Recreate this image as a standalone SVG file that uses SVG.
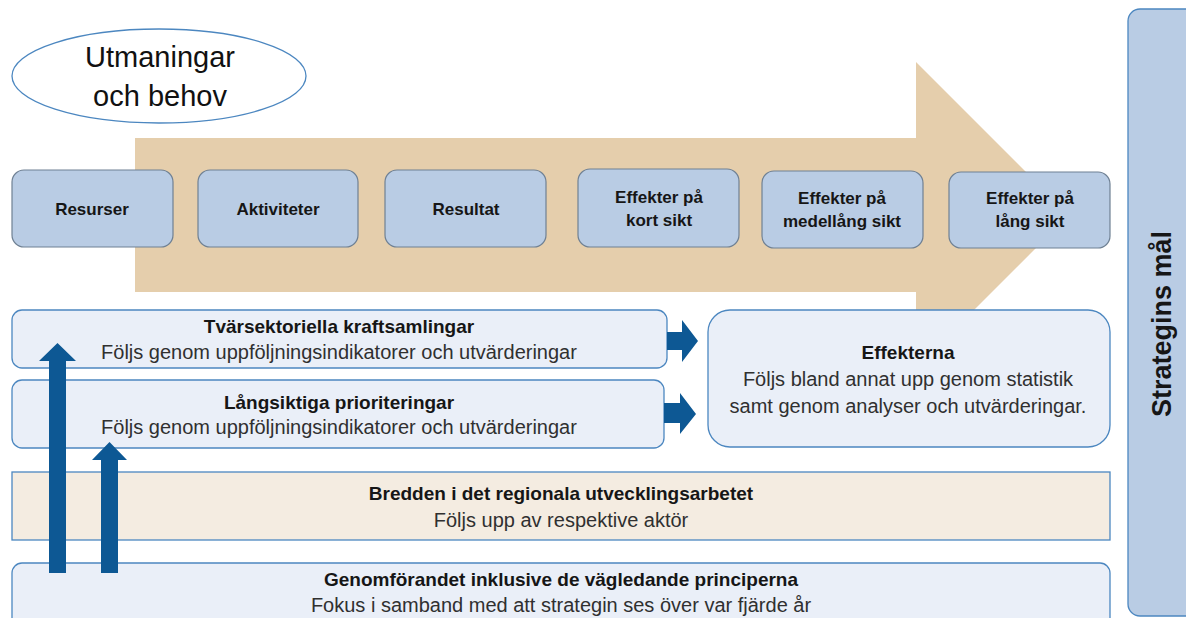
<svg xmlns="http://www.w3.org/2000/svg" width="1186" height="618" viewBox="0 0 1186 618">
<style>
text{font-family:"Liberation Sans",Arial,sans-serif;text-anchor:middle}
.b{font-weight:bold;fill:#161616}
.n{fill:#303030}
.top{fill:#B9CCE4;stroke:#6F8093;stroke-width:1.2}
.lt{fill:#EAEFF8;stroke:#4C87C0;stroke-width:1.3}
.bar{fill:#0D5894}
</style>
<g id="flow-arrow">
<path d="M135 138 H916 V62 L1069 215 L916 368 V292 H135 Z" fill="#E5CEAC"/>
</g>
<g id="utmaningar">
<ellipse cx="159" cy="76" rx="147" ry="47" fill="#fff" stroke="#4C87C0" stroke-width="1.3"/>
<text x="160" y="67" font-size="29" fill="#111">Utmaningar</text>
<text x="160" y="106" font-size="29" fill="#111">och behov</text>
</g>
<g id="resurser">
<rect class="top" x="12" y="170" width="161" height="77" rx="12"/>
<text class="b" x="92" y="215" font-size="17">Resurser</text>
</g>
<g id="aktiviteter">
<rect class="top" x="198" y="170" width="160" height="77" rx="12"/>
<text class="b" x="278" y="215" font-size="17">Aktiviteter</text>
</g>
<g id="resultat">
<rect class="top" x="385" y="170" width="161" height="77" rx="12"/>
<text class="b" x="466" y="215" font-size="17">Resultat</text>
</g>
<g id="kort">
<rect class="top" x="578" y="169" width="161" height="78" rx="12"/>
<text class="b" x="659" y="203" font-size="17">Effekter på</text>
<text class="b" x="659" y="226" font-size="17">kort sikt</text>
</g>
<g id="medellang">
<rect class="top" x="762" y="171" width="161" height="77" rx="12"/>
<text class="b" x="842" y="204" font-size="17">Effekter på</text>
<text class="b" x="842" y="227" font-size="17">medellång sikt</text>
</g>
<g id="lang">
<rect class="top" x="949" y="172" width="161" height="76" rx="12"/>
<text class="b" x="1030" y="204" font-size="17">Effekter på</text>
<text class="b" x="1030" y="227" font-size="17">lång sikt</text>
</g>
<g id="strategins-mal">
<rect x="1128" y="9" width="80" height="607" rx="12" fill="#B9CCE4" stroke="#4C87C0" stroke-width="1.3"/>
<text class="b" transform="translate(1171 324) rotate(-90)" font-size="27">Strategins mål</text>
</g>
<g id="tvarsektoriella">
<rect class="lt" x="12" y="310" width="655" height="58" rx="10"/>
<text class="b" x="339" y="333" font-size="19">Tvärsektoriella kraftsamlingar</text>
<text class="n" x="339" y="359" font-size="20">Följs genom uppföljningsindikatorer och utvärderingar</text>
</g>
<g id="langsiktiga">
<rect class="lt" x="12" y="380" width="652" height="68" rx="10"/>
<text class="b" x="339" y="409" font-size="19">Långsiktiga prioriteringar</text>
<text class="n" x="339" y="434" font-size="20">Följs genom uppföljningsindikatorer och utvärderingar</text>
</g>
<g id="effekterna">
<rect class="lt" x="708" y="310" width="402" height="137" rx="22"/>
<text class="b" x="908" y="359" font-size="19">Effekterna</text>
<text class="n" x="908" y="386" font-size="20">Följs bland annat upp genom statistik</text>
<text class="n" x="908" y="413" font-size="20">samt genom analyser och utvärderingar.</text>
</g>
<g id="bredden">
<rect x="12" y="472" width="1098" height="68" fill="#F4ECE1" stroke="#4C87C0" stroke-width="1.3"/>
<text class="b" x="561" y="500" font-size="19">Bredden i det regionala utvecklingsarbetet</text>
<text class="n" x="561" y="527" font-size="20">Följs upp av respektive aktör</text>
</g>
<g id="genomforandet">
<rect class="lt" x="12" y="563" width="1098" height="70" rx="10"/>
<text class="b" x="561" y="586" font-size="19">Genomförandet inklusive de vägledande principerna</text>
<text class="n" x="561" y="612" font-size="20">Fokus i samband med att strategin ses över var fjärde år</text>
</g>
<g id="connectors">
<path class="bar" d="M667 332 H682 V320 L698 341 L682 362 V350 H667 Z"/>
<path class="bar" d="M664 403 H680 V393 L696 414 L680 434 V423 H664 Z"/>
<path class="bar" d="M49 573 V361 H39 L57.5 343 L76 361 H66 V573 Z"/>
<path class="bar" d="M101 573 V460 H92 L109.5 442 L127 460 H118 V573 Z"/>
</g>
</svg>
